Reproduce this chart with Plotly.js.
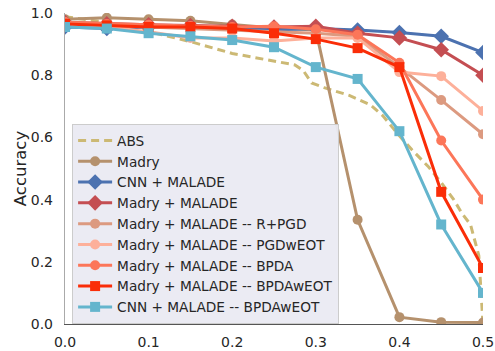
<!DOCTYPE html>
<html>
<head>
<meta charset="utf-8">
<script src="https://cdn.plot.ly/plotly-3.0.1.min.js"></script>
<style>html,body{margin:0;padding:0;background:#fff;}#chart{width:495px;height:351px;}</style>
</head>
<body>
<div id="chart"></div>
<script>
// Perturbation budgets (epsilon)
const eps = [0, 0.05, 0.1, 0.15, 0.2, 0.25, 0.3, 0.35, 0.4, 0.45, 0.5];

// ABS is a finely sampled curve
const absEps = [0, 0.05, 0.1, 0.15, 0.2, 0.24, 0.275, 0.285, 0.295, 0.31, 0.34, 0.365, 0.38, 0.4, 0.415, 0.435, 0.45, 0.465, 0.475, 0.485, 0.495, 0.5];
const absAcc = [0.988, 0.97, 0.94, 0.908, 0.87, 0.85, 0.833, 0.815, 0.775, 0.76, 0.735, 0.705, 0.67, 0.605, 0.56, 0.505, 0.455, 0.40, 0.355, 0.32, 0.22, 0.0];

const madry        = [0.98, 0.985, 0.98, 0.975, 0.963, 0.952, 0.945, 0.335, 0.022, 0.006, 0.005];
const cnnMalade    = [0.955, 0.95, 0.955, 0.955, 0.95, 0.945, 0.95, 0.945, 0.937, 0.925, 0.873];
const madryMalade  = [0.97, 0.965, 0.962, 0.96, 0.957, 0.955, 0.957, 0.935, 0.92, 0.882, 0.80];
const rpgd         = [0.965, 0.96, 0.955, 0.95, 0.945, 0.94, 0.935, 0.925, 0.826, 0.72, 0.61];
const pgdweot      = [0.97, 0.955, 0.94, 0.92, 0.92, 0.91, 0.92, 0.92, 0.81, 0.797, 0.685];
const bpda         = [0.97, 0.965, 0.962, 0.958, 0.955, 0.957, 0.948, 0.93, 0.84, 0.59, 0.40];
const bpdaweot     = [0.965, 0.96, 0.955, 0.955, 0.95, 0.935, 0.916, 0.887, 0.826, 0.425, 0.18];
const cnnBpdaweot  = [0.955, 0.95, 0.935, 0.925, 0.913, 0.89, 0.826, 0.788, 0.62, 0.32, 0.10];

const names = ['ABS', 'Madry', 'CNN + MALADE', 'Madry + MALADE',
  'Madry + MALADE -- R+PGD', 'Madry + MALADE -- PGDwEOT', 'Madry + MALADE -- BPDA',
  'Madry + MALADE -- BPDAwEOT', 'CNN + MALADE -- BPDAwEOT'];

function tr(i, x, y, color, symbol, size, dash) {
  const t = {
    x: x, y: y, name: names[i],
    type: 'scatter', mode: symbol ? 'lines+markers' : 'lines',
    line: {color: color, width: 3, dash: dash || 'solid'},
  };
  if (symbol) t.marker = {symbol: symbol, size: size, color: color};
  return t;
}

const data = [
  tr(0, absEps, absAcc, '#ccb974', null, 0, '8px,5px'),
  tr(1, eps, madry, '#b5916d', 'circle', 10),
  tr(2, eps, cnnMalade, '#4c72b0', 'diamond', 12),
  tr(3, eps, madryMalade, '#c44e52', 'diamond', 12),
  tr(4, eps, rpgd, '#dc9a80', 'circle', 10),
  tr(5, eps, pgdweot, '#fdb09a', 'circle', 10),
  tr(6, eps, bpda, '#fc7659', 'circle', 10),
  tr(7, eps, bpdaweot, '#fa2d08', 'square', 10),
  tr(8, eps, cnnBpdaweot, '#64b5cd', 'square', 10),
];

const layout = {
  width: 495, height: 351,
  margin: {l: 65, r: 12, t: 13, b: 27},
  paper_bgcolor: '#ffffff', plot_bgcolor: '#ffffff',
  font: {family: 'DejaVu Sans', color: '#262626', size: 14},
  showlegend: true,
  legend: {
    x: 0.017, y: 0.0, xanchor: 'left', yanchor: 'bottom',
    bgcolor: 'rgba(234,234,242,0.95)', bordercolor: '#cccccc', borderwidth: 1,
    font: {family: 'DejaVu Sans', size: 13.7, color: '#262626'},
    itemwidth: 34,
  },
  xaxis: {
    range: [0, 0.5], tickvals: [0, 0.1, 0.2, 0.3, 0.4, 0.5],
    ticktext: ['0.0', '0.1', '0.2', '0.3', '0.4', '0.5'],
    showgrid: false, zeroline: false,
    showline: true, linecolor: '#555555', linewidth: 1.2,
    ticks: 'outside', ticklen: 5, tickcolor: 'rgba(0,0,0,0)',
    tickfont: {family: 'DejaVu Sans', size: 14, color: '#262626'},
  },
  yaxis: {
    range: [0, 1], tickvals: [0, 0.2, 0.4, 0.6, 0.8, 1.0],
    ticktext: ['0.0', '0.2', '0.4', '0.6', '0.8', '1.0'],
    showgrid: false, zeroline: false,
    showline: true, linecolor: '#aaaaaa', linewidth: 1.2,
    ticks: 'outside', ticklen: 8, tickcolor: 'rgba(0,0,0,0)',
    tickfont: {family: 'DejaVu Sans', size: 14, color: '#262626'},
    title: {text: 'Accuracy', font: {family: 'DejaVu Sans', size: 16.5, color: '#262626'}, standoff: 0},
  },
};

Plotly.newPlot('chart', data, layout, {displayModeBar: false, staticPlot: true});
</script>
</body>
</html>
